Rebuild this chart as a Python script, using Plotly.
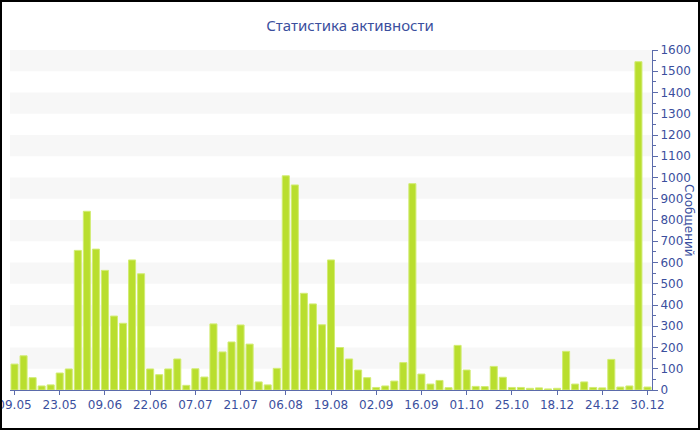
"""Activity statistics bar chart (messages per day)."""

import plotly.graph_objects as go

# tick labels, one for every fifth bar
tick_labels = [
    "09.05", "23.05", "09.06", "22.06", "07.07", "21.07", "06.08", "19.08",
    "02.09", "16.09", "01.10", "25.10", "18.12", "24.12", "30.12",
]
messages = [
    122, 161, 58, 19, 24, 80, 99, 657, 841, 663,
    563, 348, 314, 612, 547, 99, 72, 99, 146, 22,
    100, 61, 311, 179, 226, 306, 216, 38, 24, 102,
    1008, 965, 455, 405, 307, 612, 200, 146, 94, 58,
    12, 19, 42, 129, 971, 75, 28, 45, 11, 210,
    94, 17, 16, 111, 60, 12, 12, 8, 10, 5,
    8, 182, 28, 38, 12, 10, 144, 14, 19, 1545, 14,
]
bar_index = list(range(len(messages)))

TEXT = "#3b4f9e"
AXIS = "#5b6bab"
FONT = "DejaVu Sans"

fig = go.Figure(
    go.Bar(
        x=bar_index,
        y=messages,
        marker=dict(color="#b9de2e", line=dict(color="#d2ec74", width=1)),
        hoverinfo="skip",
    )
)

# alternating light bands (every other hundred)
shapes = [
    dict(type="rect", xref="paper", x0=0, x1=1, yref="y", y0=lo, y1=lo + 100,
         fillcolor="#f7f7f7", line=dict(width=0), layer="below")
    for lo in range(100, 1600, 200)
]

# black frame round the whole picture
pw, ph = 642, 340
ml, mr, mt, mb = 10, 48, 50, 40
shapes.append(dict(
    type="rect", xref="paper", yref="paper",
    x0=-(ml - 1) / pw, x1=1 + (mr - 1) / pw,
    y0=-(mb - 1) / ph, y1=1 + (mt - 1) / ph,
    line=dict(color="black", width=2), fillcolor="rgba(0,0,0,0)",
))

fig.update_layout(
    width=700,
    height=430,
    margin=dict(l=ml, r=mr, t=mt, b=mb, autoexpand=False),
    paper_bgcolor="white",
    plot_bgcolor="white",
    showlegend=False,
    bargap=0.22,
    shapes=shapes,
    font=dict(family=FONT, size=12, color=TEXT),
    title=dict(
        text="Статистика активности",
        x=0.5, xanchor="center", y=0.94, yanchor="middle",
        font=dict(family="Noto Sans", size=15, color=TEXT),
    ),
    annotations=[dict(
        text="Сообщений", textangle=90, xref="paper", yref="paper",
        x=1 + 37 / pw, y=0.5, xanchor="center", yanchor="middle",
        showarrow=False, font=dict(family=FONT, size=12, color=TEXT),
    )],
)

fig.update_xaxes(
    range=[-0.5, len(messages) - 0.5],
    tickmode="array",
    tickvals=bar_index[::5],
    ticktext=tick_labels,
    automargin=False,
    ticklabeloverflow="allow",
    showgrid=False,
    zeroline=False,
    showline=True,
    linecolor=AXIS,
    linewidth=1,
    ticks="outside",
    ticklen=4,
    tickcolor=AXIS,
    tickfont=dict(family=FONT, size=12, color=TEXT),
)

fig.update_yaxes(
    side="right",
    range=[0, 1600],
    dtick=100,
    automargin=False,
    ticklabeloverflow="allow",
    showgrid=False,
    zeroline=False,
    showline=True,
    linecolor=AXIS,
    linewidth=1,
    ticks="outside",
    ticklen=5,
    tickcolor=AXIS,
    minor=dict(dtick=50, ticks="outside", ticklen=3, tickcolor=AXIS, showgrid=False),
    tickfont=dict(family=FONT, size=12, color=TEXT),
)

# the page's default body margin would push the figure 8px off the window
fig.write_html(
    "out.html",
    config={"displayModeBar": False},
    post_script="document.body.style.margin='0';",
)
